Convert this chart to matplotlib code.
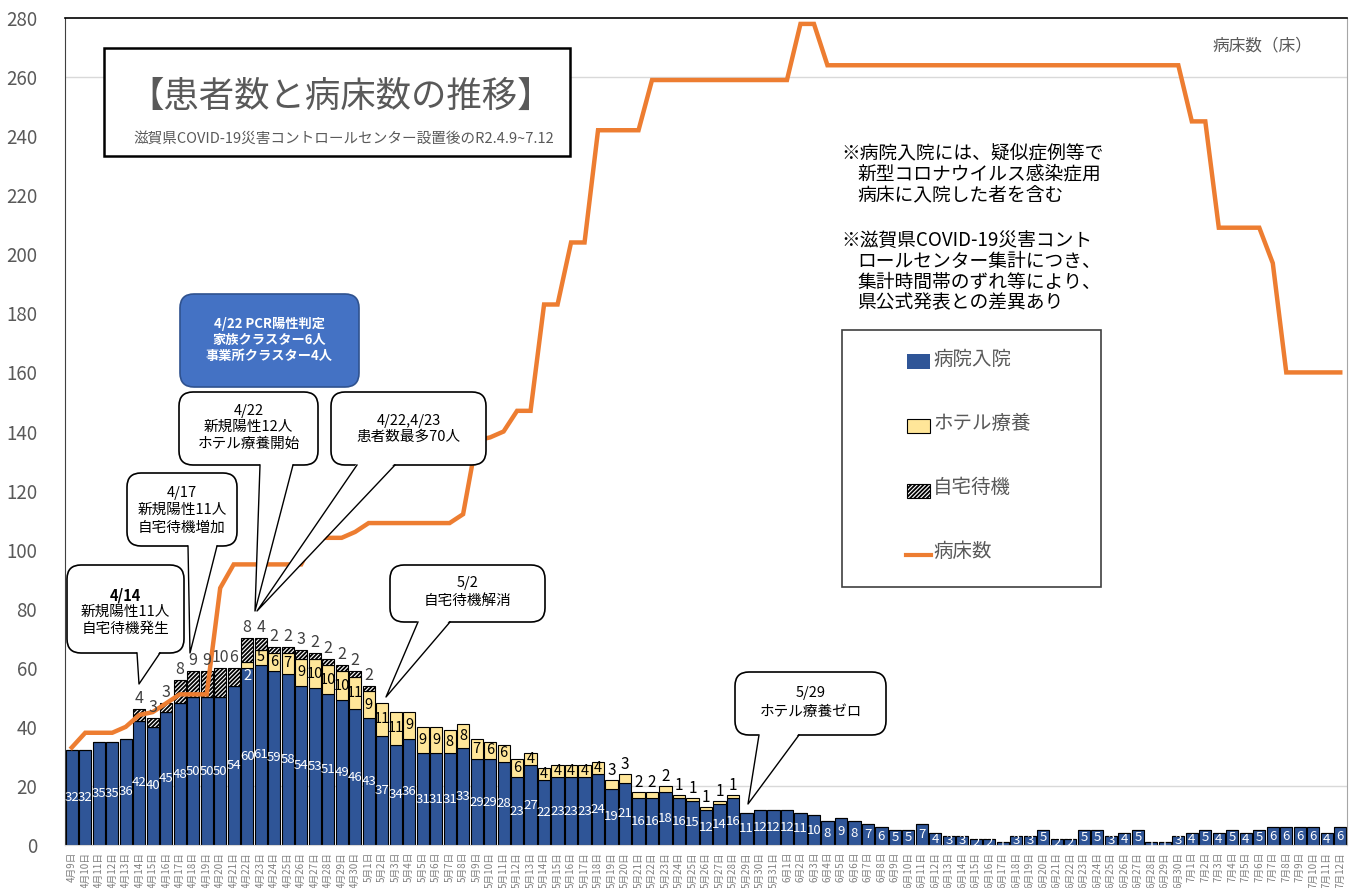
import matplotlib
matplotlib.use("Agg")
import matplotlib.pyplot as plt
from matplotlib.patches import Rectangle, FancyBboxPatch, Polygon
from matplotlib.lines import Line2D
from matplotlib.transforms import Affine2D

plt.rcParams['font.family'] = ['Noto Sans CJK JP', 'DejaVu Sans']
plt.rcParams['hatch.linewidth'] = 1.3

# ---------------- data ----------------
months = [4, 5, 6, 7]
first_day = [9, 1, 1, 1]
last_day = [30, 31, 30, 12]
date_labels = []
for m, d0, d1 in zip(months, first_day, last_day):
    for d in range(d0, d1 + 1):
        date_labels.append(f"{m}月{d}日")

hospital = [32, 32, 35, 35, 36, 42, 40, 45, 48, 50, 50, 50, 54, 60, 61, 59, 58, 54, 53, 51, 49, 46,
            43, 37, 34, 36, 31, 31, 31, 33, 29, 29, 28, 23, 27, 22, 23, 23, 23, 24, 19, 21, 16, 16,
            18, 16, 15, 12, 14, 16, 11, 12, 12,
            12, 11, 10, 8, 9, 8, 7, 6, 5, 5, 7, 4, 3, 3, 2, 2, 1, 3, 3, 5, 2, 2, 5, 5, 3, 4, 5, 1, 1, 3,
            4, 5, 4, 5, 4, 5, 6, 6, 6, 6, 4, 6]
hotel = [0] * 13 + [2, 5, 6, 7, 9, 10, 10, 10, 11] + \
        [9, 11, 11, 9, 9, 9, 8, 8, 7, 6, 6, 6, 4, 4, 4, 4, 4, 4, 3, 3, 2, 2, 2, 1, 1, 1, 1, 1, 0, 0, 0] + \
        [0] * 30 + [0] * 12
home = [0, 0, 0, 0, 0, 4, 3, 3, 8, 9, 9, 10, 6, 8, 4, 2, 2, 3, 2, 2, 2, 2] + \
       [2] + [0] * 30 + [0] * 30 + [0] * 12
beds = [33, 38, 38, 38, 40, 44, 45, 48, 51, 51, 51, 87, 95, 95, 95, 95, 95, 95, 104, 104, 104, 106,
        109, 109, 109, 109, 109, 109, 109, 112, 137, 138, 140, 147, 147, 183, 183, 204, 204,
        242, 242, 242, 242, 259, 259, 259, 259, 259, 259, 259, 259, 259, 259,
        259, 278, 278] + [264] * 27 + [245, 245, 209, 209, 209, 209, 197, 160, 160, 160, 160, 160]

y_ticks = list(range(0, 281, 20))
legend_labels = ["病院入院", "ホテル療養", "自宅待機", "病床数"]

BLUE = "#2F5597"
YELLOW = "#FFE699"
ORANGE = "#ED7D31"
GRAY = "#595959"

W, H = 1357, 888
fig = plt.figure(figsize=(W / 100, H / 100), dpi=100)
ax = fig.add_axes([65 / W, 1 - 845 / H, 1282 / W, 827 / H])
T = Affine2D().scale(1 / W, -1 / H).translate(0, 1) + fig.transFigure

x = list(range(len(hospital)))
bw = 0.9
ax.bar(x, hospital, bw, color=BLUE, edgecolor="black", linewidth=0.8, zorder=2)
base2 = [h for h in hospital]
ax.bar(x, hotel, bw, bottom=base2, color=YELLOW, edgecolor="black", linewidth=0.8, zorder=2)
base3 = [h + t for h, t in zip(hospital, hotel)]
hx = [i for i in x if home[i] > 0]
ax.bar(hx, [home[i] for i in hx], bw, bottom=[base3[i] for i in hx], color="white",
       edgecolor="black", hatch="////////", linewidth=0.8, zorder=2)
ax.plot(x, beds, color=ORANGE, lw=3.2, zorder=3, solid_joinstyle="miter")

# value labels
for i in x:
    h, t, k = hospital[i], hotel[i], home[i]
    ax.text(i, h / 2, str(h), color="white", fontsize=9.5, ha="center", va="center", zorder=4)
    total = h + t + k
    if t > 0:
        if t >= 4:
            ax.text(i, h + t / 2, str(t), color="black", fontsize=10.5, ha="center", va="center", zorder=4)
        elif k > 0:
            ax.text(i, h - 0.3, str(t), color="white", fontsize=10.5, ha="center", va="top", zorder=4)
        else:
            ax.text(i, total + 0.3, str(t), color="black", fontsize=11, ha="center", va="bottom", zorder=4)
    if k > 0:
        ax.text(i, total + 0.6, str(k), color="#404040", fontsize=11.5, ha="center", va="bottom", zorder=4)

ax.set_xlim(-0.5, len(x) - 0.5)
ax.set_ylim(0, 280)
ax.set_yticks(y_ticks)
ax.tick_params(axis="y", length=0, pad=20, labelsize=13.5, labelcolor=GRAY)
ax.set_xticks(x)
ax.set_xticklabels(date_labels, rotation=90, fontsize=7, color="#7f7f7f")
ax.tick_params(axis="x", length=0, pad=5)
for yv in (20, 260):
    ax.axhline(yv, color="#d9d9d9", lw=1, zorder=0.5)
ax.spines["top"].set_color("black")
ax.spines["top"].set_linewidth(1.2)
ax.spines["left"].set_color("#404040")
ax.spines["right"].set_color("#a6a6a6")
ax.spines["bottom"].set_color("#d9d9d9")

# ---------------- decorations (pixel coordinates) ----------------
def ptext(px, py, s, **kw):
    ax.text(px, py, s, transform=T, zorder=12, **kw)

def callout(box, base, tip, lines, ys, fs=10.5, bold_first=False):
    x0, y0, x1, y1 = box
    ax.add_patch(FancyBboxPatch((x0, y0), x1 - x0, y1 - y0,
                                boxstyle="round,pad=0,rounding_size=14", transform=T,
                                facecolor="white", edgecolor="black", lw=1.2, zorder=10, clip_on=False))
    bx0, bx1 = base
    ax.add_patch(Polygon([(bx0, y1 - 2), tip, (bx1, y1 - 2)], closed=True, transform=T,
                         facecolor="white", edgecolor="none", zorder=10.5, clip_on=False))
    ax.add_line(Line2D([bx0, tip[0], bx1], [y1, tip[1], y1], transform=T, color="black",
                       lw=1.0, zorder=10.6, clip_on=False))
    cx = (x0 + x1) / 2
    for j, (s, yy) in enumerate(zip(lines, ys)):
        ptext(cx, yy, s, ha="center", va="center", fontsize=fs, color="black",
              fontweight="bold" if (bold_first and j == 0) else "normal")

callout((67, 565, 184, 653), (137, 160), (139, 684), ["4/14", "新規陽性11人", "自宅待機発生"],
        [595, 612, 629], bold_first=True)
callout((127, 473, 237, 546), (188, 217), (190, 653), ["4/17", "新規陽性11人", "自宅待機増加"],
        [493, 510, 528])
callout((179, 392, 318, 465), (260, 293), (255, 611), ["4/22", "新規陽性12人", "ホテル療養開始"],
        [411, 427, 444])
callout((331, 392, 486, 465), (357, 395), (257, 611), ["4/22,4/23", "患者数最多70人"],
        [421, 437])
callout((390, 565, 545, 622), (418, 450), (386, 697), ["5/2", "自宅待機解消"], [583, 601])
callout((735, 672, 886, 735), (759, 799), (748, 804), ["5/29", "ホテル療養ゼロ"], [693, 712])

# blue callout
ax.add_patch(FancyBboxPatch((180, 294), 179, 93, boxstyle="round,pad=0,rounding_size=14",
                            transform=T, facecolor="#4472C4", edgecolor="#2F528F", lw=1.2,
                            zorder=10, clip_on=False))
for s, yy in zip(["4/22 PCR陽性判定", "家族クラスター6人", "事業所クラスター4人"], [324, 340, 356]):
    ptext(269.5, yy, s, ha="center", va="center", fontsize=9.5, color="white", fontweight="bold")

# title box
ax.add_patch(Rectangle((104, 48), 466, 108, transform=T, facecolor="white", edgecolor="black",
                       lw=1.8, zorder=10, clip_on=False))
ptext(341, 97, "【患者数と病床数の推移】", ha="center", va="center", fontsize=25.5, color=GRAY)
ptext(344, 139, "滋賀県COVID-19災害コントロールセンター設置後のR2.4.9~7.12", ha="center",
      va="center", fontsize=10.5, color=GRAY)

ptext(1262, 46, "病床数（床）", ha="center", va="center", fontsize=12, color=GRAY)

# notes
note1 = [("※病院入院には、疑似症例等で", 841), ("新型コロナウイルス感染症用", 857), ("病床に入院した者を含む", 857)]
for (s, xx), yy in zip(note1, [153, 174, 195]):
    ptext(xx, yy, s, ha="left", va="center", fontsize=13.5, color="black")
note2 = [("※滋賀県COVID-19災害コント", 841), ("ロールセンター集計につき、", 857),
         ("集計時間帯のずれ等により、", 857), ("県公式発表との差異あり", 857)]
for (s, xx), yy in zip(note2, [240, 261, 282, 303]):
    ptext(xx, yy, s, ha="left", va="center", fontsize=13.5, color="black")

# legend
ax.add_patch(Rectangle((842, 330), 259, 257, transform=T, facecolor="white", edgecolor="#404040",
                       lw=1.2, zorder=10, clip_on=False))
ax.add_patch(Rectangle((907, 354), 23, 15, transform=T, facecolor=BLUE, edgecolor="none",
                       zorder=11, clip_on=False))
ax.add_patch(Rectangle((907, 419), 23, 14, transform=T, facecolor=YELLOW, edgecolor="black",
                       lw=0.8, zorder=11, clip_on=False))
ax.add_patch(Rectangle((907, 484), 23, 14, transform=T, facecolor="white", edgecolor="black",
                       hatch="////////", lw=0.8, zorder=11, clip_on=False))
ax.add_line(Line2D([906, 931], [555, 555], transform=T, color=ORANGE, lw=3, zorder=11, clip_on=False))
for s, yy in zip(legend_labels, [359, 423, 487, 551]):
    ptext(933, yy, s, ha="left", va="center", fontsize=14, color=GRAY)

fig.savefig("out.png", dpi=100)
